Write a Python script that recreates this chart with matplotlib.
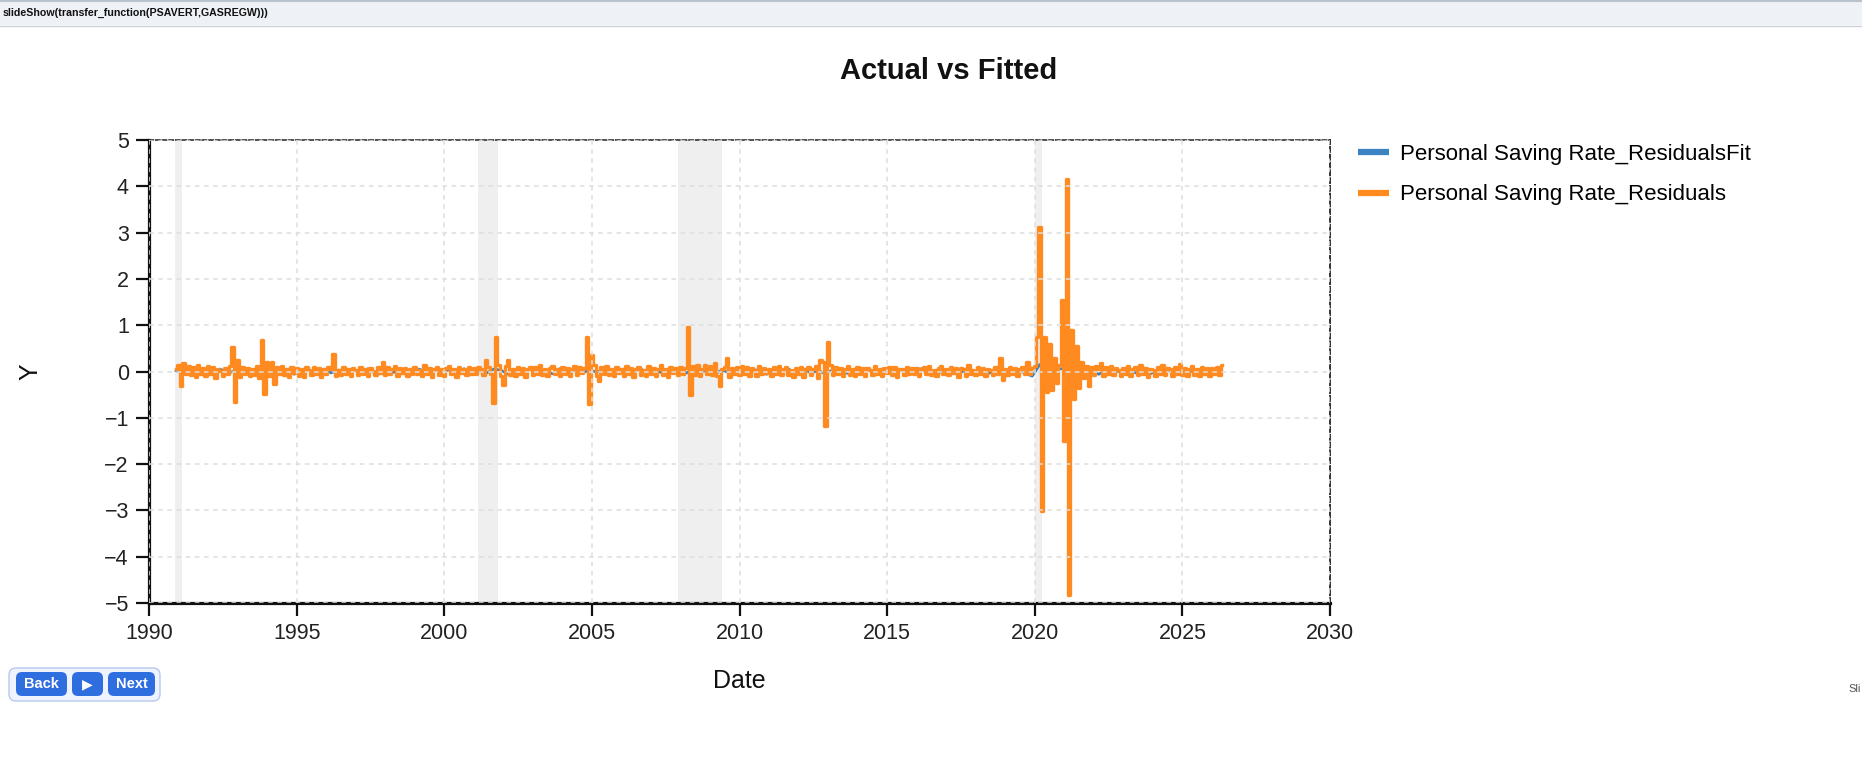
import matplotlib
matplotlib.use("Agg")
import matplotlib.pyplot as plt
import pandas as pd
from matplotlib.patches import FancyBboxPatch, Rectangle

plt.rcParams['font.family'] = ['Liberation Sans', 'DejaVu Sans']

# ---------------- data ----------------
title = "Actual vs Fitted"
x_label = "Date"
y_label = "Y"
series_fit_name = "Personal Saving Rate_ResidualsFit"
series_res_name = "Personal Saving Rate_Residuals"
command_text = "slideShow(transfer_function(PSAVERT,GASREGW)))"

x_ticks = [1990, 1995, 2000, 2005, 2010, 2015, 2020, 2025, 2030]
y_ticks = [-5, -4, -3, -2, -1, 0, 1, 2, 3, 4, 5]

residual_start = "1990-12-01"   # monthly observations
residuals = [
    0.05,                                                                          # 1990 Dec
    0.15, -0.32, 0.18, -0.05, 0.12, -0.08, 0.10, -0.12, 0.14, -0.06, 0.08, -0.10,  # 1991
    0.12, -0.05, 0.10, -0.14, 0.06, 0.02, -0.10, 0.08, -0.06, 0.12, 0.53, -0.65,   # 1992
    0.25, -0.12, 0.10, -0.06, 0.08, -0.10, 0.05, -0.08, 0.12, -0.15, 0.67, -0.48,  # 1993
    0.20, -0.10, 0.20, -0.27, 0.10, -0.05, 0.12, -0.08, 0.06, -0.12, 0.10, -0.04,  # 1994
    0.08, -0.10, 0.06, -0.12, 0.10, 0.03, -0.08, 0.09, -0.05, 0.07, -0.11, 0.05,   # 1995
    -0.06, 0.10, 0.05, 0.38, -0.10, 0.04, -0.08, 0.10, -0.06, 0.05, -0.10, 0.07,   # 1996
    0.04, -0.08, 0.10, -0.05, 0.06, -0.10, 0.08, 0.02, -0.07, 0.09, -0.04, 0.20,   # 1997
    -0.08, 0.10, -0.06, 0.05, 0.12, -0.09, 0.07, -0.04, 0.08, -0.10, 0.06, -0.05,  # 1998
    0.10, -0.06, 0.04, -0.10, 0.13, -0.05, 0.08, -0.12, 0.06, 0.10, -0.07, 0.05,   # 1999
    -0.09, 0.07, 0.12, -0.06, 0.05, -0.11, 0.09, -0.04, 0.06, -0.08, 0.10, -0.05,  # 2000
    0.07, -0.06, 0.10, 0.05, -0.08, 0.25, 0.10, -0.05, -0.67, 0.74, 0.15, -0.10,   # 2001
    -0.29, 0.12, 0.25, -0.08, 0.06, -0.10, 0.10, -0.05, 0.08, -0.12, 0.05, 0.09,   # 2002
    -0.07, 0.10, -0.05, 0.13, -0.08, 0.06, -0.10, 0.08, 0.12, -0.06, 0.05, -0.09,  # 2003
    0.10, -0.05, 0.08, -0.10, 0.06, 0.12, -0.07, 0.09, -0.04, 0.08, 0.74, -0.70,   # 2004
    0.35, 0.15, -0.10, -0.20, 0.10, -0.05, 0.12, -0.08, 0.06, -0.10, 0.09, -0.04,  # 2005
    0.06, -0.10, 0.12, -0.06, 0.08, -0.12, 0.05, 0.10, -0.07, 0.04, -0.09, 0.11,   # 2006
    -0.05, 0.08, -0.10, 0.06, 0.13, -0.07, 0.05, -0.11, 0.09, -0.04, 0.07, -0.08,  # 2007
    0.10, -0.06, 0.08, 0.96, -0.50, 0.12, -0.08, 0.15, -0.10, 0.06, 0.14, -0.05,   # 2008
    0.12, -0.08, 0.18, -0.10, -0.32, 0.06, 0.10, 0.29, -0.12, 0.08, -0.05, 0.10,   # 2009
    -0.08, 0.12, -0.05, 0.09, -0.10, 0.07, 0.04, -0.09, 0.11, -0.06, 0.08, -0.04,  # 2010
    0.06, -0.10, 0.09, -0.05, 0.12, -0.08, 0.05, 0.10, -0.07, 0.04, -0.11, 0.08,   # 2011
    -0.05, 0.09, -0.12, 0.06, 0.10, -0.07, 0.05, 0.12, -0.15, 0.25, 0.20, -1.17,   # 2012
    0.63, 0.15, -0.08, 0.10, -0.05, 0.08, -0.10, 0.06, 0.12, -0.07, 0.05, -0.09,   # 2013
    0.10, -0.05, 0.07, -0.10, 0.08, 0.04, -0.08, 0.11, -0.06, 0.05, -0.10, 0.07,   # 2014
    -0.04, 0.09, -0.07, 0.10, -0.12, 0.06, 0.05, -0.08, 0.10, -0.05, 0.08, -0.06,  # 2015
    0.07, -0.10, 0.05, 0.09, -0.06, 0.11, -0.08, 0.04, -0.10, 0.07, 0.12, -0.05,   # 2016
    0.06, -0.08, 0.10, -0.04, 0.07, -0.11, 0.08, 0.05, -0.09, 0.13, -0.06, 0.04,   # 2017
    -0.08, 0.10, -0.05, 0.07, -0.10, 0.06, 0.04, -0.07, 0.09, -0.05, 0.29, -0.18,  # 2018
    0.06, -0.08, 0.10, -0.05, 0.07, -0.10, 0.05, 0.09, -0.06, 0.20, -0.05, 0.08,   # 2019
    0.12, 0.75, 3.13, -3.02, 0.75, -0.45, 0.60, -0.40, 0.30, -0.25, 0.15, 1.55,    # 2020
    -1.51, 4.15, -4.82, 0.90, -0.60, 0.55, -0.35, 0.20, -0.15, 0.12, -0.32, 0.10,  # 2021
    -0.08, 0.12, 0.06, 0.18, -0.10, 0.09, -0.05, 0.11, -0.08, 0.07, 0.04, -0.10,   # 2022
    0.08, -0.06, 0.12, -0.09, 0.05, 0.10, -0.07, 0.15, -0.05, 0.08, -0.11, 0.06,   # 2023
    0.04, -0.09, 0.10, -0.06, 0.13, -0.08, 0.07, 0.05, -0.10, 0.09, -0.05, 0.16,   # 2024
    -0.07, 0.08, -0.10, 0.06, 0.11, -0.08, 0.05, -0.09, 0.10, -0.06, 0.07, -0.10,  # 2025
    0.08, -0.05, 0.10, -0.08, 0.15,                                                # 2026
]

fit_start = "1990-12-01"   # quarterly observations
fitted = [
    0.02, -0.03, 0.04, -0.05, 0.03, -0.02, 0.05, -0.04, 0.02, 0.06,
    -0.03, 0.04, -0.05, 0.03, -0.02, 0.05, -0.06, 0.04, 0.02, -0.04,
    0.05, -0.03, 0.03, -0.05, 0.04, -0.02, 0.06, -0.04, 0.03, -0.05,
    0.02, 0.04, -0.03, 0.05, -0.06, 0.03, -0.02, 0.04, -0.05, 0.06,
    -0.03, 0.02, -0.04, 0.05, 0.03, -0.06, 0.04, -0.02, 0.05, -0.04,
    0.03, -0.05, 0.06, -0.03, 0.02, -0.04, 0.04, -0.02, 0.05, -0.06,
    0.03, -0.04, 0.02, 0.05, -0.03, 0.04, -0.05, 0.02, 0.06, -0.04,
    0.03, -0.02, 0.04, -0.05, 0.03, -0.03, 0.05, -0.04, 0.02, 0.04,
    -0.06, 0.03, -0.02, 0.05, -0.04, 0.06, -0.03, 0.02, -0.05, 0.04,
    0.03, -0.04, 0.05, -0.02, 0.04, -0.06, 0.03, -0.03, 0.05, -0.04,
    0.02, 0.06, -0.05, 0.03, -0.04, 0.05, -0.06, 0.05, -0.04, 0.03,
    -0.05, 0.04, 0.02, -0.03, 0.05, -0.04, -0.10, 0.15, -0.08, 0.05,
    0.06, -0.03, 0.02, -0.04, 0.05, -0.06, 0.03, 0.04, -0.02, 0.05,
    -0.03, 0.04, -0.05, 0.02, 0.05, -0.03, 0.04, -0.02, 0.03, -0.04,
    0.06, 0.03,
]

recession_start = [1990.88, 2001.15, 2007.92, 2020.02]
recession_end = [1991.13, 2001.83, 2009.40, 2020.25]

buttons = ["Back", "\u25B6", "Next"]
footer_text = "Sli"

# ---------------- helpers ----------------
def decimal_year(idx):
    return idx.year + (idx.month - 1) / 12.0

x_res = decimal_year(pd.date_range(residual_start, periods=len(residuals), freq="MS"))
x_fit = decimal_year(pd.date_range(fit_start, periods=len(fitted), freq="3MS"))

W, H = 1862, 765
fig = plt.figure(figsize=(W / 100, H / 100), dpi=100)

# UI overlay in pixel coordinates
ui = fig.add_axes([0, 0, 1, 1], zorder=-1)
ui.set_xlim(0, W)
ui.set_ylim(H, 0)
ui.axis("off")
ui.add_patch(Rectangle((0, 0), W, 25, fc="#eef2f6", ec="none"))
ui.plot([0, W], [25.5, 25.5], color="#c9d1da", lw=1)
ui.plot([0, W], [1, 1], color="#b9c3cd", lw=1.5)
ui.text(3, 13, command_text, fontsize=7.7, fontweight="bold", va="center", ha="left",
        color="#111")

ui.add_patch(FancyBboxPatch((9, 668), 151, 33, boxstyle="round,pad=0,rounding_size=7",
                            fc="#eef3fd", ec="#b7c9ee", lw=1))
btn_box = [(16, 51), (72, 31), (108, 47)]
for label, (x0, bw) in zip(buttons, btn_box):
    ui.add_patch(FancyBboxPatch((x0, 672), bw, 24, boxstyle="round,pad=0,rounding_size=6",
                                fc="#2f6ede", ec="none"))
    ui.text(x0 + bw / 2, 684.5, label, color="white",
            fontsize=10.5 if label != "\u25B6" else 10,
            fontweight="bold", ha="center", va="center",
            family=["Liberation Sans Narrow", "Liberation Sans", "DejaVu Sans"])
ui.text(1861, 689, footer_text, fontsize=8, color="#555", ha="right", va="center")

# main axes
L, R, T, B = 149, 1330, 140, 603
ax = fig.add_axes([L / W, 1 - B / H, (R - L) / W, (B - T) / H])

for s, e in zip(recession_start, recession_end):
    ax.axvspan(s, e, color="#efefef", lw=0, zorder=1)

ax.plot(x_fit, fitted, color="#3a82c2", lw=2.0, zorder=2, label=series_fit_name)
ax.plot(x_res, residuals, color="#ff8a1f", lw=2.4, zorder=2.1, label=series_res_name,
        drawstyle="steps-mid")

ax.set_xlim(1990, 2030)
ax.set_ylim(-5, 5)
ax.set_xticks(x_ticks)
ax.set_yticks(y_ticks)
ax.set_axisbelow(False)
ax.grid(True, color="#dedede", lw=1.1, linestyle=(0, (3, 3)))

ax.tick_params(direction="out", length=9.5, width=1.6, color="#111", labelcolor="#222",
               labelsize=15.5, pad=5)

ax.spines["left"].set_linestyle((0, (2, 1)))
ax.spines["left"].set_linewidth(2.3)
ax.spines["left"].set_color("#111")
ax.spines["bottom"].set_linewidth(2.3)
ax.spines["bottom"].set_color("#111")
ax.spines["top"].set_linestyle((0, (2.5, 1.5)))
ax.spines["top"].set_linewidth(1.2)
ax.spines["top"].set_color("#333")
ax.spines["right"].set_linestyle((0, (2.5, 1.5)))
ax.spines["right"].set_linewidth(1.4)
ax.spines["right"].set_color("#333")

ax.set_xlabel(x_label, fontsize=18, color="#111")
ax.xaxis.label.set_va("center")
ax.xaxis.set_label_coords(0.5, -(681 - B) / (B - T))
ax.set_ylabel(y_label, fontsize=18, color="#111")
ax.yaxis.label.set_va("center")
ax.yaxis.label.set_ha("center")
ax.yaxis.set_label_coords(-(L - 30) / (R - L), 0.5)

fig.text(949 / W, 1 - 71 / H, title, fontsize=21, fontweight="bold", ha="center", va="center",
         color="#111")

handles, labels = ax.get_legend_handles_labels()
leg = fig.legend(handles, labels, loc="upper left", bbox_to_anchor=(1358 / W, 1 - 144 / H),
                 frameon=False, fontsize=16, handlelength=1.4, handletextpad=0.5,
                 labelspacing=0.87, borderpad=0, borderaxespad=0)
for h in leg.legend_handles:
    h.set_linewidth(4.5)
    h.set_solid_capstyle("butt")
    h.set_drawstyle("default")

fig.savefig("out.png", dpi=100)
